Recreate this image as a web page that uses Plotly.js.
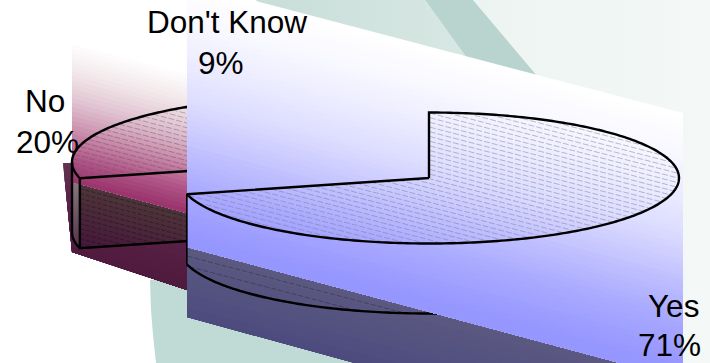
<!DOCTYPE html>
<html>
<head>
<meta charset="utf-8">
<script src="https://cdn.plot.ly/plotly-3.0.1.min.js"></script>
<style>html,body{margin:0;padding:0;background:#fff}#chart{width:710px;height:363px}</style>
</head>
<body>
<div id="chart"></div>
<script>
// Survey result
const categories = ["Yes", "No", "Don't Know"];
const shares = [71, 20, 9];

// Label placement: [category index, centre x of name, centre y of name, centre x of value, centre y of value]
const labelSpots = [
  [0, 673, 306, 669, 344.5],
  [1, 45, 100.5, 47, 141.5],
  [2, 227, 21.5, 221, 62.5]
];

// Projected pie geometry
const CX = 429, CY = 178, RX = 250, RY = 65.5, DEPTH = 70;
const sliceOffsets = [[0, 0], [-107, -16], [-32, -29]];
const SKEW = 0.262;

const traces = [];
const lerp = (a, b, t) => a + (b - a) * t;
const hex = c => [1, 3, 5].map(i => parseInt(c.slice(i, i + 2), 16));
function ramp(stops, t) {
  if (t <= stops[0][0]) return stops[0][1];
  for (let i = 1; i < stops.length; i++) {
    if (t <= stops[i][0]) {
      const f = (t - stops[i - 1][0]) / (stops[i][0] - stops[i - 1][0]);
      const a = hex(stops[i - 1][1]), b = hex(stops[i][1]);
      return `rgb(${a.map((v, k) => Math.round(lerp(v, b[k], f))).join(",")})`;
    }
  }
  return stops[stops.length - 1][1];
}

function fillPoly(poly, color, extra) {
  traces.push(Object.assign({
    type: "scatter", mode: "lines", x: poly.map(p => p[0]), y: poly.map(p => p[1]),
    fill: "toself", fillcolor: color, line: { width: 0 }, hoverinfo: "skip"
  }, extra || {}));
}
function stroke(pts, color, width, dash) {
  traces.push({
    type: "scatter", mode: "lines", x: pts.map(p => p ? p[0] : null), y: pts.map(p => p ? p[1] : null),
    line: { color, width, dash: dash || "solid", simplify: false }, hoverinfo: "skip", connectgaps: false
  });
}

// Keep the part of a polygon lying below a skewed line
function clipBelow(poly, t, x0) {
  const f = p => p[1] - SKEW * (p[0] - x0) - t, out = [];
  poly.forEach((p, i) => {
    const q = poly[(i + 1) % poly.length], fp = f(p), fq = f(q);
    if (fp >= 0) out.push(p);
    if ((fp >= 0) !== (fq >= 0)) {
      const u = fp / (fp - fq);
      out.push([lerp(p[0], q[0], u), lerp(p[1], q[1], u)]);
    }
  });
  return out;
}
// Skewed gradient, painted as overlapping bands from the top down
function skewGradient(poly, stops, x0, bands) {
  const t0 = stops[0][0], t1 = stops[stops.length - 1][0];
  fillPoly(poly, ramp(stops, t0));
  for (let i = 1; i <= bands; i++) {
    const t = lerp(t0, t1, i / bands), part = clipBelow(poly, t, x0);
    if (part.length > 2) fillPoly(part, ramp(stops, t));
  }
}

function inside(poly, x, y) {
  let c = false;
  for (let i = 0, j = poly.length - 1; i < poly.length; j = i++) {
    const a = poly[i], b = poly[j];
    if ((a[1] > y) !== (b[1] > y) && x < (b[0] - a[0]) * (y - a[1]) / (b[1] - a[1]) + a[0]) c = !c;
  }
  return c;
}
// Fine slanted ruling restricted to a polygon
function hatch(poly, spacing, x0, color, dash, width) {
  const xs = poly.map(p => p[0]), ys = poly.map(p => p[1]);
  const xa = Math.min(...xs), xb = Math.max(...xs), pts = [];
  const ca = Math.min(...ys) - SKEW * (xb - x0), cb = Math.max(...ys) - SKEW * (xa - x0);
  for (let c = ca; c <= cb; c += spacing) {
    let open = null, last = null;
    for (let x = xa; x <= xb; x += 1) {
      const y = c + SKEW * (x - x0), isIn = inside(poly, x, y);
      if (isIn && !open) open = [x, y];
      if (isIn) last = [x, y];
      if (!isIn && open) { pts.push(open, last, null); open = null; }
    }
    if (open) pts.push(open, last, null);
  }
  stroke(pts, color, width, dash);
}

// Slice outlines worked out from the shares
const toAngle = v => v / shares.reduce((a, b) => a + b, 0) * 2 * Math.PI;
let run = 0;
const slices = shares.map((v, i) => {
  const from = toAngle(run), to = toAngle(run + v);
  run += v;
  const cx = CX + sliceOffsets[i][0], cy = CY + sliceOffsets[i][1];
  const at = (th, drop) => [cx + RX * Math.sin(th), cy - RY * Math.cos(th) + (drop || 0)];
  const arc = (a, b, drop) => {
    const n = Math.max(4, Math.ceil(Math.abs(b - a) * 60)), out = [];
    for (let k = 0; k <= n; k++) out.push(at(lerp(a, b, k / n), drop));
    return out;
  };
  return { from, to, centre: [cx, cy], at, arc, rim: arc(from, to) };
});
const [yes, no, dontKnow] = slices;
const outline = s => [s.centre, ...s.rim, s.centre];

// Backdrop
fillPoly([[473, 0], [710, 0], [710, 363], [560, 363], [560, 103]], "#eef5f3",
  { fillgradient: { type: "horizontal", start: 473, stop: 710, colorscale: [[0, "#ecf4f1"], [1, "#f4f8f7"]] } });
fillPoly([[256, 0], [425, 0], [490, 90], [300, 60]], "#d5e6e1",
  { fillgradient: { type: "horizontal", start: 256, stop: 480, colorscale: [[0, "#c8ded8"], [1, "#d9e8e4"]] } });
fillPoly([[425, 0], [473, 0], [560, 103], [490, 90]], "#b9d4ce");
fillPoly([[150, 280], [151, 310], [153, 335], [156, 363], [380, 363], [380, 280]], "#c0dad5");

// Underside and wall of the separated slice
const noLow = no.arc(no.from, toAngle(75), DEPTH);
const noHigh = no.arc(no.from, toAngle(75));
skewGradient([[63, 163], [72, 163], [187, 195], [187, 290], [72, 252]],
  [[160, "#623352"], [195, "#5c2349"], [255, "#4e1a3d"]], 72, 14);
const noTip = no.rim[0], wall = [noTip, no.centre, [no.centre[0], no.centre[1] + DEPTH], noLow[0]];
skewGradient(wall, [[150, "#4c4244"], [190, "#4c3038"], [235, "#461a3b"]], 72, 14);
fillPoly([...noHigh, ...noLow.slice().reverse()], "#7d6c74",
  { fillgradient: { type: "vertical", start: 175, stop: 250, colorscale: [[0, "#8a7e82"], [1, "#54304a"]] } });
hatch(wall, 5, 72, "rgba(20,5,20,0.5)", "4px,2px", 0.8);

// Upper panel of the separated slice
skewGradient([[72, 0], [187, 0], [187, 213], [72, 182]],
  [[40, "#ffffff"], [70, "#f2e7ea"], [100, "#dfc2d0"], [130, "#c98aaa"], [160, "#ac4f82"], [183, "#972f68"]], 72, 32);
hatch(outline(no), 4.7, 72, "rgba(90,80,90,0.5)", "6px,2px", 0.8);
stroke(outline(dontKnow), "#000", 2.4);
stroke(no.arc(no.from, no.to), "#000", 2.4);
stroke([noHigh[noHigh.length - 1], noLow[noLow.length - 1], ...noLow.slice().reverse(), null,
  noTip, noLow[0], [no.centre[0], no.centre[1] + DEPTH], null, noTip, no.centre], "#000", 2.4);

// Underside of the main slice
skewGradient([[187, 247], [620, 363], [355, 363], [187, 317]],
  [[245, "#5b5980"], [315, "#4d4b7e"]], 187, 10);
const yesLow = yes.arc(toAngle(40), yes.to, DEPTH);
hatch([yes.centre, ...yes.arc(toAngle(40), yes.to, DEPTH), [187, 247], [442, 315]], 10, 187, "rgba(35,35,60,0.55)", "5px,2px", 0.8);
stroke(yesLow, "#000", 2.4);

// Lit panel of the main slice
skewGradient([[187, -17], [683, 113], [683, 363], [620, 363], [187, 247]],
  [[-17, "#ffffff"], [20, "#f8f8ff"], [60, "#ececff"], [100, "#dcdcff"], [150, "#bfbfff"], [190, "#a8a8ff"], [235, "#9696ff"]], 187, 48);
hatch(outline(yes), 4.7, 187, "rgba(120,120,150,0.55)", "6px,2px", 0.9);
stroke(outline(yes), "#000", 2.4);
stroke([yes.at(yes.to), yes.at(yes.to, DEPTH)], "#000", 1.6);

// Category labels with their percentages
const annotations = [];
labelSpots.forEach(([i, nx, ny, vx, vy]) => {
  [[categories[i], nx, ny], [shares[i] + "%", vx, vy]].forEach(([text, x, y]) => {
    annotations.push({
      text, x, y, xref: "x", yref: "y", showarrow: false, xanchor: "center", yanchor: "middle",
      font: { family: "Liberation Sans, Arial, sans-serif", size: 31.5, color: "#000" }
    });
  });
});

Plotly.newPlot("chart", traces, {
  width: 710, height: 363, margin: { l: 0, r: 0, t: 0, b: 0 },
  paper_bgcolor: "#fff", plot_bgcolor: "#fff", showlegend: false, hovermode: false,
  xaxis: { range: [0, 710], visible: false, fixedrange: true },
  yaxis: { range: [363, 0], visible: false, fixedrange: true },
  annotations
}, { displayModeBar: false, staticPlot: true });
</script>
</body>
</html>
